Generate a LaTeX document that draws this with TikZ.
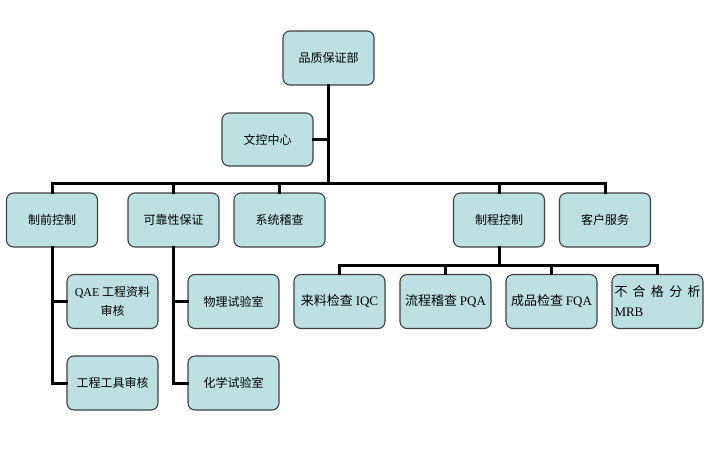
\documentclass[tikz,border=0pt]{standalone}
\usepackage{fontspec}
\setmainfont{Liberation Serif}
\newfontfamily\cjk{Noto Sans CJK SC}
\definecolor{boxfill}{HTML}{BDE0E3}
\definecolor{boxline}{HTML}{404040}
\begin{document}
\begin{tikzpicture}[x=1pt,y=-1pt,
  orgbox/.style={draw=boxline, line width=1.1pt, fill=boxfill, rounded corners=7pt,
    minimum width=91pt, minimum height=54pt, inner sep=0pt, align=center,
    font=\fontsize{12}{19}\selectfont\cjk},
  bigtext/.style={font=\fontsize{13}{20}\selectfont\cjk},
  link/.style={line width=3pt, black, line join=miter, line cap=rect}]
\useasboundingbox (0,0) rectangle (709,450);
\fill[white] (0,0) rectangle (709,450);
% level 0/1
\node[orgbox] (top) at (328.5,58) {品质保证部};
\node[orgbox, minimum height=53pt] (doc) at (267.5,139.5) {文控中心};
% level 2
\node[orgbox] (pre)  at (52,220)    {制前控制};
\node[orgbox] (rel)  at (173.5,220) {可靠性保证};
\node[orgbox] (sys)  at (279.5,220) {系统稽查};
\node[orgbox] (proc) at (499,220)   {制程控制};
\node[orgbox] (cust) at (605,220)   {客户服务};
% level 3
\node[orgbox] (qae)  at (112.5,301.5) {{\rmfamily QAE} 工程资料\\审核};
\node[orgbox] (tool) at (112.5,383)   {工程工具审核};
\node[orgbox] (phy)  at (233.5,301.5) {物理试验室};
\node[orgbox] (chem) at (233.5,383)   {化学试验室};
\node[orgbox, bigtext] (iqc)  at (339.5,301.5) {来料检查 {\rmfamily IQC}};
\node[orgbox, bigtext] (pqa)  at (445.5,301.5) {流程稽查 {\rmfamily PQA}};
\node[orgbox, bigtext] (fqa)  at (551.5,301.5) {成品检查 {\rmfamily FQA}};
\node[orgbox, bigtext, align=left] (mrb) at (657.5,301.5)
  {\makebox[86pt][s]{不\hfill 合\hfill 格\hfill 分\hfill 析}\\{\rmfamily MRB}};
% connectors
\coordinate (bus) at (328.5,183);
\coordinate (bus2) at (499,265);
\draw[link] (top.south) -- (top.south |- bus);
\draw[link] (doc.east) -- (doc.east -| top.south);
\draw[link] (pre.north) -- (pre.north |- bus) -- (cust.north |- bus) -- (cust.north);
\foreach \n in {rel,sys,proc} \draw[link] (\n.north) -- (\n.north |- bus);
\draw[link] (pre.south) -- (pre.south |- tool.west) -- (tool.west);
\draw[link] (pre.south |- qae.west) -- (qae.west);
\draw[link] (rel.south) -- (rel.south |- chem.west) -- (chem.west);
\draw[link] (rel.south |- phy.west) -- (phy.west);
\draw[link] (proc.south) -- (bus2);
\draw[link] (iqc.north) -- (iqc.north |- bus2) -- (mrb.north |- bus2) -- (mrb.north);
\foreach \n in {pqa,fqa} \draw[link] (\n.north) -- (\n.north |- bus2);
\end{tikzpicture}
\end{document}
